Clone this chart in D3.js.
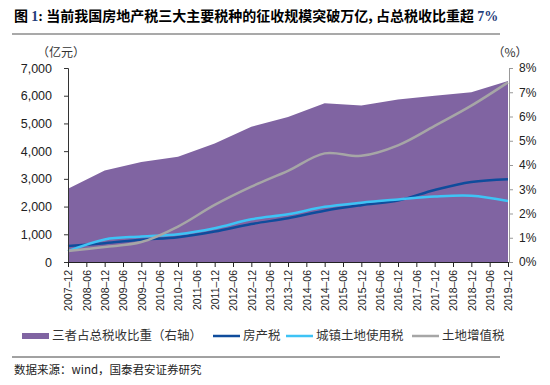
<!DOCTYPE html>
<html>
<head>
<meta charset="utf-8">
<script src="https://cdn.jsdelivr.net/npm/d3@7/dist/d3.min.js"></script>
<style>
  body { margin: 0; background: #fff; }
  text { font-family: "Liberation Sans", Arial, sans-serif; }
  .cjk { font-family: "Noto Sans CJK SC", sans-serif; }
</style>
</head>
<body>
<div id="chart"></div>
<script>
// x-axis tick labels (half-year)
var ticks = ["2007-12","2008-06","2008-12","2009-06","2009-12","2010-06","2010-12","2011-06",
  "2011-12","2012-06","2012-12","2013-06","2013-12","2014-06","2014-12","2015-06","2015-12",
  "2016-06","2016-12","2017-06","2017-12","2018-06","2018-12","2019-06","2019-12"]

// annual data points
var years = ["2007-12","2008-12","2009-12","2010-12","2011-12","2012-12","2013-12",
  "2014-12","2015-12","2016-12","2017-12","2018-12","2019-12"]
var share = [3.02, 3.77, 4.12, 4.34, 4.89, 5.58, 5.98, 6.55, 6.45, 6.7, 6.86, 7.0, 7.46]   // %
var fangchan = [575, 680, 805, 895, 1100, 1370, 1580, 1850, 2050, 2220, 2600, 2890, 2990]
var chengzhen = [390, 815, 920, 1005, 1220, 1540, 1720, 1990, 2140, 2255, 2360, 2390, 2200]
var zengzhi = [400, 540, 720, 1280, 2060, 2720, 3290, 3920, 3830, 4210, 4910, 5640, 6480]

var leftTicks = [0, 1000, 2000, 3000, 4000, 5000, 6000, 7000]
var rightTicks = [0, 1, 2, 3, 4, 5, 6, 7, 8]

var W = 550, H = 385
var svg = d3.select("#chart").append("svg").attr("width", W).attr("height", H)

var x = d3.scalePoint().domain(ticks).range([68, 508])
var yL = d3.scaleLinear().domain([0, 7000]).range([262, 68])
var yR = d3.scaleLinear().domain([0, 8]).range([262, 68])

// title
var title = svg.append("text").attr("x", 14).attr("y", 21)
  .style("font-size", "14px").style("font-weight", "bold")
title.append("tspan").attr("class", "cjk").text("图 ")
title.append("tspan").style("font-family", "Liberation Serif").attr("fill", "#1f3c7a").text("1")
title.append("tspan").style("font-family", "Liberation Serif").text(": ")
title.append("tspan").attr("class", "cjk").text("当前我国房地产税三大主要税种的征收规模突破万亿, 占总税收比重超 ")
title.append("tspan").style("font-family", "Liberation Serif").attr("fill", "#1f3c7a").text("7%")

svg.append("line").attr("x1", 12).attr("x2", 500).attr("y1", 34).attr("y2", 34)
  .attr("stroke", "#8c8c8c").attr("stroke-width", 1.5)

// area (right axis)
var area = d3.area()
  .x(function(d, i) { return x(years[i]) })
  .y0(yR(0))
  .y1(function(d) { return yR(d) })
svg.append("path").datum(share).attr("d", area).attr("fill", "#8064a2")

// lines (left axis)
var line = d3.line()
  .x(function(d, i) { return x(years[i]) })
  .y(function(d) { return yL(d) })
  .curve(d3.curveCatmullRom.alpha(0.5))

var series = [
  {name: "房产税", values: fangchan, color: "#0f4c9c"},
  {name: "城镇土地使用税", values: chengzhen, color: "#3ec3f5"},
  {name: "土地增值税", values: zengzhi, color: "#a6a6a6"}
]
series.forEach(function(s) {
  svg.append("path").datum(s.values).attr("d", line)
    .attr("fill", "none").attr("stroke", s.color).attr("stroke-width", 2.5)
})

// left axis
var gL = svg.append("g").attr("transform", "translate(68,0)")
  .call(d3.axisLeft(yL).tickValues(leftTicks).tickSize(4).tickPadding(12).tickFormat(d3.format(",")))
gL.select(".domain").attr("stroke", "#333")
gL.selectAll(".tick line").attr("stroke", "#333")
gL.selectAll("text").style("font-size", "12.5px").attr("fill", "#222")

// right axis
var gR = svg.append("g").attr("transform", "translate(509,0)")
  .call(d3.axisRight(yR).tickValues(rightTicks).tickSize(4).tickPadding(6).tickFormat(function(d) { return d + "%" }))
gR.select(".domain").attr("stroke", "#999")
gR.selectAll(".tick line").attr("stroke", "#999")
gR.selectAll("text").style("font-size", "12px").attr("fill", "#222")

// x axis
var gX = svg.append("g").attr("transform", "translate(0,262)")
  .call(d3.axisBottom(x).tickSize(5).tickSizeOuter(0))
gX.select(".domain").attr("stroke", "#222").attr("d", "M68,0.5H509")
gX.selectAll(".tick line").attr("stroke", "#222")
gX.selectAll("text")
  .style("font-size", "10.5px").attr("fill", "#222")
  .attr("transform", "rotate(-90)")
  .attr("x", -8).attr("y", 0).attr("dy", "0.35em")
  .style("text-anchor", "end")
  .text(function(d) { return d.replace("-", "–") })

// unit labels
svg.append("text").attr("class", "cjk").attr("x", 61).attr("y", 57).attr("text-anchor", "middle")
  .style("font-size", "12px").attr("fill", "#333").text("（亿元）")
svg.append("text").attr("class", "cjk").attr("x", 510).attr("y", 57).attr("text-anchor", "middle")
  .style("font-size", "12px").attr("fill", "#333").text("（%）")

// legend
var ly = 336
svg.append("rect").attr("x", 22).attr("y", ly - 3).attr("width", 27).attr("height", 6).attr("fill", "#8064a2")
svg.append("text").attr("class", "cjk").attr("x", 52).attr("y", ly).attr("dy", "0.35em")
  .style("font-size", "12.5px").attr("fill", "#333").text("三者占总税收比重（右轴）")
var legX = [213, 286, 412]
series.forEach(function(s, i) {
  svg.append("line").attr("x1", legX[i]).attr("x2", legX[i] + 27).attr("y1", ly).attr("y2", ly)
    .attr("stroke", s.color).attr("stroke-width", 2.5)
  svg.append("text").attr("class", "cjk").attr("x", legX[i] + 30).attr("y", ly).attr("dy", "0.35em")
    .style("font-size", "12.5px").attr("fill", "#333").text(s.name)
})

// source
svg.append("line").attr("x1", 12).attr("x2", 500).attr("y1", 357).attr("y2", 357)
  .attr("stroke", "#444").attr("stroke-width", 1)
svg.append("text").attr("class", "cjk").attr("x", 14).attr("y", 374)
  .style("font-size", "11.5px").attr("fill", "#222").text("数据来源：wind，国泰君安证券研究")
</script>
</body>
</html>
